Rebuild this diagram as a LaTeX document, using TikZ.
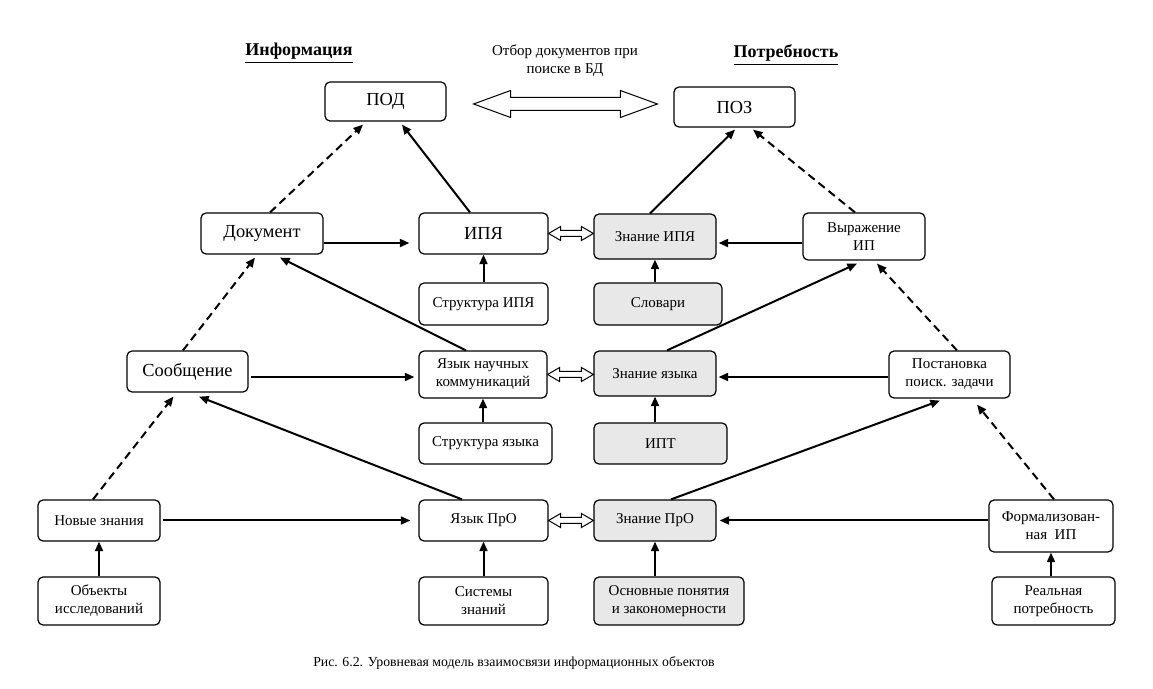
\documentclass[tikz,border=0pt]{standalone}
\usepackage{fontspec}
\setmainfont{Liberation Serif}
\usetikzlibrary{arrows.meta, positioning, calc}

% hollow double arrow: from, to, shaft half, head half, head length
\newcommand{\hollowdbl}[5]{%
  \draw[line width=0.5pt, fill=white] (#1) -- ++(#5,-#4) -- ++(0,#4-#3)
    -- ($(#2)+(-#5,-#3)$) -- ++(0,-#4+#3) -- (#2) -- ++(-#5,#4)
    -- ++(0,-#4+#3) -- ($(#1)+(#5,#3)$) -- ++(0,#4-#3) -- cycle;}

\begin{document}
\begin{tikzpicture}[x=0.5pt, y=-0.5pt,
  box/.style={draw, rounded corners=2.5pt, line width=0.6pt, align=center,
    inner sep=1pt, font=\fontsize{7.5}{9}\selectfont},
  bigbox/.style={box, font=\fontsize{9.2}{11}\selectfont},
  knowbox/.style={box, fill=black!9},
  sz/.style 2 args={minimum width=#1*0.5pt, minimum height=#2*0.5pt},
  arr/.style={-{Triangle[length=4.8pt, width=4pt]}, line width=1pt},
  dasharr/.style={arr, dash pattern=on 4pt off 2.5pt},
  sidehead/.style={font=\bfseries\fontsize{9}{10}\selectfont}]

  \useasboundingbox (0,0) rectangle (1153,689);

  % Headings
  \node (info) [sidehead] at (299,53) {\underline{Информация}};
  \node (need) [sidehead] at (786,55) {\underline{Потребность}};
  \node (sel) [align=center, font=\fontsize{7.5}{9}\selectfont] at (565,61)
    {Отбор документов при\\поиске в БД};

  % Nodes
  \node (pod) [bigbox, sz={121}{39}] at (385.5,101.5) {ПОД};
  \node (poz) [bigbox, sz={121}{40}] at (734.5,107) {ПОЗ};

  \node (doc) [bigbox, sz={122}{41}] at (262,233.5) {Документ};
  \node (ipya) [bigbox, sz={129}{41}] at (483.5,233.5) {ИПЯ};
  \node (stipya) [box, sz={129}{42}] at (483.5,304) {Структура ИПЯ};
  \node (zipya) [knowbox, sz={122}{45}] at (655,236.5) {Знание ИПЯ};
  \node (slov) [knowbox, sz={128}{42}] at (658,304) {Словари};
  \node (vyr) [box, sz={122}{47}] at (864,236.5) {Выражение\\ИП};

  \node (soob) [bigbox, sz={121}{41}] at (187.5,371.5) {Сообщение};
  \node (yank) [box, sz={128}{47}] at (483,374.5) {Язык научных\\коммуникаций};
  \node (styaz) [box, sz={133}{41}] at (485.5,443.5) {Структура языка};
  \node (zyaz) [knowbox, sz={122}{45}] at (655,373.5) {Знание языка};
  \node (ipt) [knowbox, sz={133}{41}] at (660.5,443.5) {ИПТ};
  \node (post) [box, sz={121}{47}] at (949.5,374.5) {Постановка\\поиск. задачи};

  \node (nov) [box, sz={122}{41}] at (99,520.5) {Новые знания};
  \node (obj) [box, sz={122}{48}] at (99,601) {Объекты\\исследований};
  \node (yapro) [box, sz={129}{41}] at (483.5,520.5) {Язык ПрО};
  \node (sist) [box, sz={129}{48}] at (483.5,601) {Системы\\знаний};
  \node (zpro) [knowbox, sz={122}{41}] at (655,520.5) {Знание ПрО};
  \node (osn) [knowbox, sz={150}{48}] at (669,601) {Основные понятия\\и закономерности};
  \node (form) [box, sz={124}{52}] at (1051,526) {Формализован-\\ная~~ИП};
  \node (real) [box, sz={123}{48}] at (1053.5,601) {Реальная\\потребность};

  \node (caption) [font=\fontsize{6.9}{8.5}\selectfont] at (514,663)
    {Рис. 6.2. Уровневая модель взаимосвязи информационных объектов};

  % Arrows up from the lower boxes
  \draw[arr] (stipya) -- (ipya);
  \draw[arr] (slov.north -| zipya) -- (zipya);
  \draw[arr] (styaz.north -| yank) -- (yank);
  \draw[arr] (ipt.north -| zyaz) -- (zyaz);
  \draw[arr] (obj) -- (nov);
  \draw[arr] (sist) -- (yapro);
  \draw[arr] (osn.north -| zpro) -- (zpro);
  \draw[arr] (real.north -| form) -- (form);

  % Horizontal arrows
  \draw[arr] ($(doc.east)+(0,9.5)$) -- ($(ipya.west)+(-9,9.5)$);
  \draw[arr] ($(vyr.west)+(0,6.5)$) -- ($(zipya.east)+(2,6.5)$);
  \draw[arr] ($(soob.east)+(2,5.5)$) -- ($(yank.west)+(-4,2.5)$);
  \draw[arr] ($(post.west)+(0,2.5)$) -- ($(zyaz.east)+(2,3.5)$);
  \draw[arr] ($(nov.east)+(2,0)$) -- ($(yapro.west)+(-8,0)$);
  \draw[arr] ($(form.west)+(0,-5.5)$) -- ($(zpro.east)+(3,0)$);

  % Diagonal arrows
  \draw[dasharr] ($(nov.north)+(-6,0)$) -- ($(soob.south)+(-14,4)$);
  \draw[arr] ($(yapro.north)+(-21.5,0)$) -- ($(soob.south)+(11.5,4)$);
  \draw[dasharr] ($(soob.north)+(-4.5,0)$) -- ($(doc.south)+(-7,3)$);
  \draw[arr] ($(yank.north)+(-17,0)$) -- ($(doc.south)+(18,3)$);
  \draw[dasharr] ($(doc.north)+(8,0)$) -- ($(pod.south)+(-22.5,3)$);
  \draw[arr] ($(ipya.north)+(-13.5,0)$) -- ($(pod.south)+(16.5,3)$);
  \draw[arr] ($(zipya.north)+(-5,0)$) -- ($(poz.south)+(0.5,2)$);
  \draw[dasharr] ($(vyr.north)+(-9,0)$) -- ($(poz.south)+(18.5,2)$);
  \draw[arr] ($(zyaz.north)+(12,0)$) -- ($(vyr.south)+(-7,3)$);
  \draw[dasharr] ($(post.north)+(7.5,0)$) -- ($(vyr.south)+(13,3)$);
  \draw[arr] ($(zpro.north)+(16,0)$) -- ($(post.south)+(-9.5,2)$);
  \draw[dasharr] ($(form.north)+(3,0)$) -- ($(post.south)+(27.5,6)$);

  % Hollow double arrows
  \coordinate (dz1) at (ipya.east -| zipya.west);
  \coordinate (dz2) at (yank.east -| zyaz.west);
  \coordinate (dz3) at (yapro.east -| zpro.west);
  \hollowdbl{ipya.east}{dz1}{3}{7}{12}
  \hollowdbl{yank.east}{dz2}{3}{7}{12}
  \hollowdbl{yapro.east}{dz3}{3}{7}{12}
  \coordinate (topL) at ($(pod.east)+(27,2.5)$);
  \coordinate (topR) at ($(poz.west)+(-16,-3)$);
  \hollowdbl{topL}{topR}{6.5}{13.5}{37}

\end{tikzpicture}
\end{document}
